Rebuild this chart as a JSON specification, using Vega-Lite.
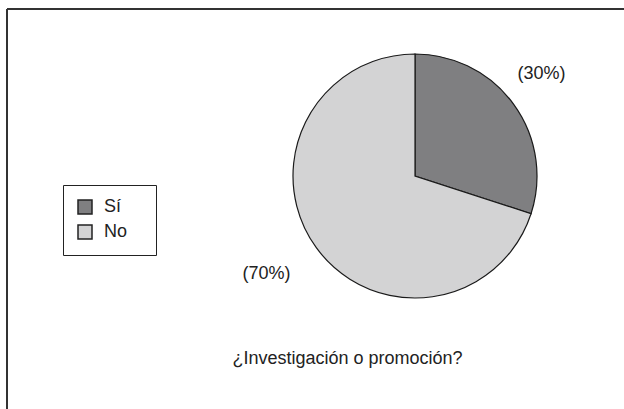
{
  "$schema": "https://vega.github.io/schema/vega-lite/v6.json",
  "width": 617,
  "height": 400,
  "autosize": {"type": "none"},
  "padding": {"left": 7, "top": 9, "right": 0, "bottom": 0},
  "background": "white",
  "title": {
    "text": "¿Investigación o promoción?",
    "orient": "top",
    "anchor": "middle",
    "frame": "group",
    "offset": 0,
    "dx": 32,
    "dy": 373,
    "baseline": "alphabetic",
    "font": "Liberation Sans",
    "fontSize": 18,
    "fontWeight": "normal",
    "color": "#222222"
  },
  "data": {
    "values": [
      {"respuesta": "Sí", "valor": 30, "etiqueta": "(30%)"},
      {"respuesta": "No", "valor": 70, "etiqueta": "(70%)"}
    ]
  },
  "layer": [
    {
      "mark": {"type": "point", "opacity": 0},
      "encoding": {"x": {"datum": 0, "type": "quantitative", "axis": null}}
    },
    {
      "mark": {"type": "arc", "outerRadius": 122, "x": 408, "y": 167, "stroke": "#1a1a1a", "strokeWidth": 1.2},
      "encoding": {
        "theta": {"field": "valor", "type": "quantitative", "stack": true},
        "order": {"field": "valor", "sort": "ascending"},
        "color": {
          "field": "respuesta",
          "type": "nominal",
          "scale": {"domain": ["Sí", "No"], "range": ["#7f7f81", "#d3d3d4"]},
          "legend": {
            "title": null,
            "orient": "none",
            "legendX": 56,
            "legendY": 176,
            "direction": "vertical",
            "symbolType": "square",
            "symbolSize": 196,
            "symbolStrokeColor": "#222222",
            "symbolStrokeWidth": 1.5,
            "symbolOpacity": 1,
            "labelFont": "Liberation Sans",
            "labelFontSize": 18,
            "labelColor": "#222222",
            "labelOffset": 10,
            "rowPadding": 5,
            "padding": 13,
            "strokeColor": "#222222",
            "fillColor": "white",
            "labelExpr": "datum.label + '\u00a0\u00a0\u00a0\u200b'"
          }
        }
      }
    },
    {
      "mark": {"type": "text", "radius": 170, "x": 408, "y": 167, "dx": -11, "dy": -2, "font": "Liberation Sans", "fontSize": 18, "color": "#222222"},
      "encoding": {
        "theta": {"field": "valor", "type": "quantitative", "stack": true},
        "order": {"field": "valor", "sort": "ascending"},
        "text": {"field": "etiqueta", "type": "nominal"}
      }
    }
  ],
  "config": {
    "view": {"stroke": "#333333", "strokeWidth": 2, "strokeDash": [617, 1017, 400, 0]}
  }
}
